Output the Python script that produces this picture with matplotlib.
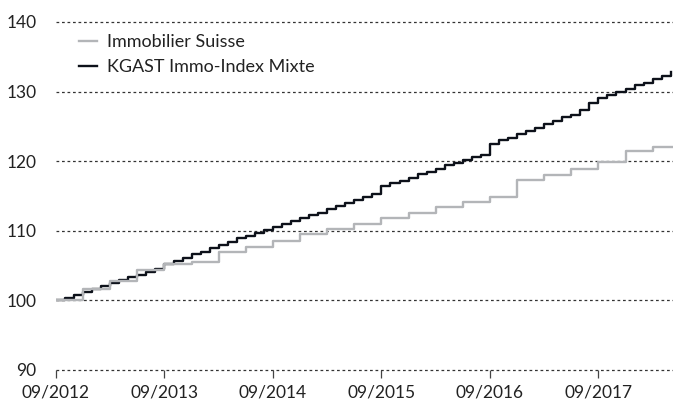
import matplotlib.pyplot as plt
import numpy as np

# Monthly index, 0 = 09/2012
KGAST = [
    100.0, 100.4, 100.8, 101.2, 101.7, 102.1, 102.5, 102.9, 103.3, 103.7, 104.1, 104.5,
    105.3, 105.7, 106.1, 106.6, 107.0, 107.5, 107.9, 108.4, 108.9, 109.3, 109.7, 110.1,
    110.6, 111.0, 111.4, 111.8, 112.2, 112.6, 113.1, 113.6, 114.0, 114.4, 114.9, 115.3,
    116.4, 116.9, 117.2, 117.6, 118.1, 118.4, 118.9, 119.4, 119.8, 120.2, 120.6, 120.9,
    122.5, 123.0, 123.4, 123.9, 124.4, 124.7, 125.3, 125.8, 126.3, 126.7, 127.3, 128.3,
    129.1, 129.5, 129.9, 130.4, 130.9, 131.3, 131.8, 132.3, 132.8,
]
# Quarterly index, one value per quarter starting 09/2012
SUISSE = [
    100.0, 101.7, 102.8, 104.4, 105.2, 105.5, 106.9, 107.7, 108.6, 109.5, 110.3, 111.0,
    111.8, 112.5, 113.4, 114.2, 114.9, 117.3, 118.0, 118.9, 119.9, 121.4, 122.1,
]
TICK_LABELS = ["09/2012", "09/2013", "09/2014", "09/2015", "09/2016", "09/2017"]
Y_TICKS = [90, 100, 110, 120, 130, 140]

FONT = "Lato"
TEXT_COLOR = "#222222"
GRAY = "#b3b5b8"
BLACK = "#0d111a"

plt.rcParams["font.family"] = [FONT, "DejaVu Sans"]

fig = plt.figure(figsize=(6.73, 4.01), dpi=100)
ax = fig.add_axes([56 / 673, 1 - 370 / 401, 1 - 56 / 673, (370 - 22) / 401])

months_k = np.arange(len(KGAST))
ax.step(months_k, KGAST, where="post", color=BLACK, lw=1.7, zorder=3,
        label="KGAST Immo-Index Mixte")

months_s = np.append(np.arange(len(SUISSE)) * 3, len(SUISSE) * 3)
vals_s = SUISSE + [SUISSE[-1]]
ax.step(months_s, vals_s, where="post", color=GRAY, lw=1.7, zorder=4,
        label="Immobilier Suisse")

ax.set_xlim(0, 68.25)
ax.set_ylim(90, 140)
ax.set_yticks(Y_TICKS)
ax.set_xticks(np.arange(len(TICK_LABELS)) * 12)
ax.set_xticklabels(TICK_LABELS)

for s in ax.spines.values():
    s.set_visible(False)
for y in Y_TICKS:
    ax.axhline(y, color="#333333", lw=0.9, linestyle=(0, (2.2, 2.2)), zorder=1, clip_on=False)

ax.tick_params(axis="y", length=0, pad=14, labelsize=12.5, labelcolor=TEXT_COLOR)
ax.tick_params(axis="x", direction="out", length=5.5, width=0.9, color="#444444",
               pad=5, labelsize=12.5, labelcolor=TEXT_COLOR)

handles, labels = ax.get_legend_handles_labels()
ax.legend(handles[::-1], labels[::-1], loc="upper left",
          bbox_to_anchor=(23 / 617, (370 - 34) / 348),
          frameon=False, fontsize=13, handlelength=1.0, handletextpad=0.55,
          labelspacing=0.5, borderpad=0, borderaxespad=0, labelcolor=TEXT_COLOR)

fig.savefig("out.png", dpi=100)
